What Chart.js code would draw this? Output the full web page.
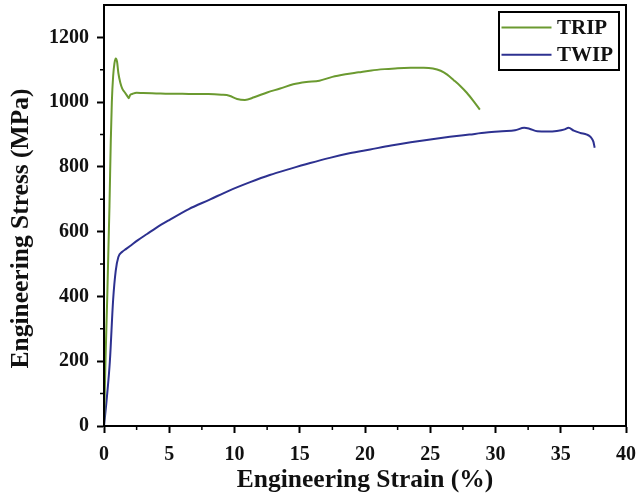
<!DOCTYPE html>
<html>
<head>
<meta charset="utf-8">
<script src="https://cdn.jsdelivr.net/npm/chart.js@4.4.1/dist/chart.umd.min.js"></script>
<style>
  html, body { margin: 0; padding: 0; background: #fff; }
  #wrap { width: 638px; height: 496px; }
</style>
</head>
<body>
<div id="wrap"><canvas id="c" width="638" height="496"></canvas></div>
<script>
// values (strain in %, stress in MPa)
const seriesNames = ["TRIP", "TWIP"];

const tripStrain = [0, 0.1, 0.25, 0.42, 0.52, 0.6, 0.7, 0.8, 0.9, 1.0, 1.1, 1.25, 1.4, 1.6, 1.8, 1.9, 2.0, 2.2, 2.5, 3, 4, 5, 6, 7, 8, 9, 9.6, 10.2, 10.8, 11.5, 12.5, 13.5, 14.5, 15.5, 16.5, 17.5, 18.5, 19.5, 20.5, 21.5, 22.5, 23.5, 24.5, 25.2, 25.8, 26.3, 26.8, 27.3, 27.8, 28.3, 28.8];
const tripStress = [0, 180, 400, 680, 880, 1000, 1080, 1120, 1135, 1125, 1090, 1060, 1042, 1030, 1018, 1012, 1022, 1026, 1029, 1028, 1027, 1026, 1026, 1025, 1025, 1023, 1020, 1010, 1007, 1015, 1030, 1042, 1055, 1062, 1066, 1078, 1086, 1092, 1098, 1102, 1105, 1106, 1106, 1104, 1097, 1085, 1068, 1050, 1029, 1004, 977];

const twipStrain = [0, 0.2, 0.45, 0.7, 0.9, 1.1, 1.4, 1.7, 2.0, 2.6, 3.3, 4.0, 5.0, 6.5, 8.1, 9.6, 11.2, 12.7, 14.25, 15.8, 17.3, 18.8, 20.4, 22, 23.5, 25, 26.5, 28, 29.3, 30.5, 31.5, 32.2, 32.6, 33.2, 34, 34.7, 35.3, 35.6, 36.0, 36.5, 37.0, 37.3, 37.5, 37.6];
const twipStress = [0, 80, 200, 390, 480, 522, 538, 547, 556, 574, 593, 612, 636, 670, 699, 727, 753, 775, 794, 812, 828, 842, 854, 866, 876, 885, 893, 900, 906, 910, 913, 921, 918, 910, 909, 911, 916, 921, 912, 905, 900, 892, 878, 859];

const xTicks = [0, 5, 10, 15, 20, 25, 30, 35, 40];
const yTicks = [0, 200, 400, 600, 800, 1000, 1200];
const yTitle = "Engineering Stress (MPa)";

const FONT = "'Liberation Serif', 'Times New Roman', serif";
const GREEN = "#6b9a30";
const BLUE = "#2d3190";

function pts(xs, ys) {
  return xs.map((x, i) => ({ x: x, y: ys[i] }));
}

// box round the plot area, the short minor ticks and the y title
const framePlugin = {
  id: "frame",
  afterDatasetsDraw(chart) {
    const { ctx, chartArea: a, scales } = chart;
    ctx.save();
    ctx.strokeStyle = "#000";
    ctx.lineWidth = 2;
    ctx.strokeRect(a.left, a.top, a.right - a.left, a.bottom - a.top);
    ctx.lineWidth = 1.5;
    ctx.beginPath();
    for (let i = 0; i < xTicks.length - 1; i++) {
      const px = scales.x.getPixelForValue((xTicks[i] + xTicks[i + 1]) / 2);
      ctx.moveTo(px, a.bottom);
      ctx.lineTo(px, a.bottom + 4);
    }
    for (let i = 0; i < yTicks.length - 1; i++) {
      const py = scales.y.getPixelForValue((yTicks[i] + yTicks[i + 1]) / 2);
      ctx.moveTo(a.left, py);
      ctx.lineTo(a.left - 4, py);
    }
    ctx.stroke();

    // y title sits a little below the middle of the axis, as in the figure
    ctx.translate(21, (a.top + a.bottom) / 2 + 13);
    ctx.rotate(-Math.PI / 2);
    ctx.font = "bold 25.5px " + FONT;
    ctx.fillStyle = "#111";
    ctx.textAlign = "center";
    ctx.textBaseline = "middle";
    ctx.fillText(yTitle, 0, 0);
    ctx.restore();
  }
};

// boxed legend in the top right corner
const legendPlugin = {
  id: "boxLegend",
  afterDraw(chart) {
    const { ctx, chartArea: a } = chart;
    const w = 120, h = 58;
    const x0 = a.right - 7 - w, y0 = a.top + 7;
    ctx.save();
    ctx.fillStyle = "#fff";
    ctx.fillRect(x0, y0, w, h);
    ctx.strokeStyle = "#000";
    ctx.lineWidth = 2;
    ctx.strokeRect(x0, y0, w, h);
    ctx.font = "bold 21px " + FONT;
    ctx.textBaseline = "middle";
    chart.data.datasets.forEach((ds, i) => {
      const cy = y0 + 15.5 + i * 27.3;
      ctx.strokeStyle = ds.borderColor;
      ctx.lineWidth = 2;
      ctx.beginPath();
      ctx.moveTo(x0 + 2.5, cy);
      ctx.lineTo(x0 + 52.5, cy);
      ctx.stroke();
      ctx.fillStyle = "#111";
      ctx.fillText(ds.label, x0 + 58, cy + 1);
    });
    ctx.restore();
  }
};

new Chart(document.getElementById("c").getContext("2d"), {
  type: "line",
  data: {
    datasets: [
      { label: seriesNames[0], data: pts(tripStrain, tripStress), borderColor: GREEN, borderWidth: 2, pointRadius: 0, cubicInterpolationMode: "monotone" },
      { label: seriesNames[1], data: pts(twipStrain, twipStress), borderColor: BLUE, borderWidth: 2, pointRadius: 0, cubicInterpolationMode: "monotone" }
    ]
  },
  options: {
    responsive: false,
    animation: false,
    layout: { padding: { left: 0, right: 12, top: 5, bottom: 0 } },
    scales: {
      x: {
        type: "linear",
        min: 0,
        max: 40,
        afterBuildTicks: s => { s.ticks = xTicks.map(v => ({ value: v })); },
        afterFit: s => { s.height = 70; s.paddingLeft = 0; s.paddingRight = 0; },
        ticks: { color: "#111", font: { family: FONT, size: 20, weight: "bold" }, padding: 10, callback: v => String(v) },
        grid: { drawOnChartArea: false, drawTicks: true, tickLength: 7, tickWidth: 2, tickColor: "#000" },
        border: { color: "#000", width: 2 },
        title: { display: true, text: "Engineering Strain (%)", color: "#111", font: { family: FONT, size: 25.5, weight: "bold" }, padding: { top: 2, bottom: 0 } }
      },
      y: {
        min: 0,
        max: 1300,
        afterBuildTicks: s => { s.ticks = yTicks.map(v => ({ value: v })); },
        afterFit: s => { s.width = 104; s.paddingTop = 0; s.paddingBottom = 0; },
        ticks: { color: "#111", font: { family: FONT, size: 20, weight: "bold" }, padding: 8, callback: v => String(v) },
        grid: { drawOnChartArea: false, drawTicks: true, tickLength: 7, tickWidth: 2, tickColor: "#000" },
        border: { color: "#000", width: 2 },
        title: { display: false }
      }
    },
    plugins: {
      legend: { display: false },
      tooltip: { enabled: false }
    }
  },
  plugins: [framePlugin, legendPlugin]
});
</script>
</body>
</html>
